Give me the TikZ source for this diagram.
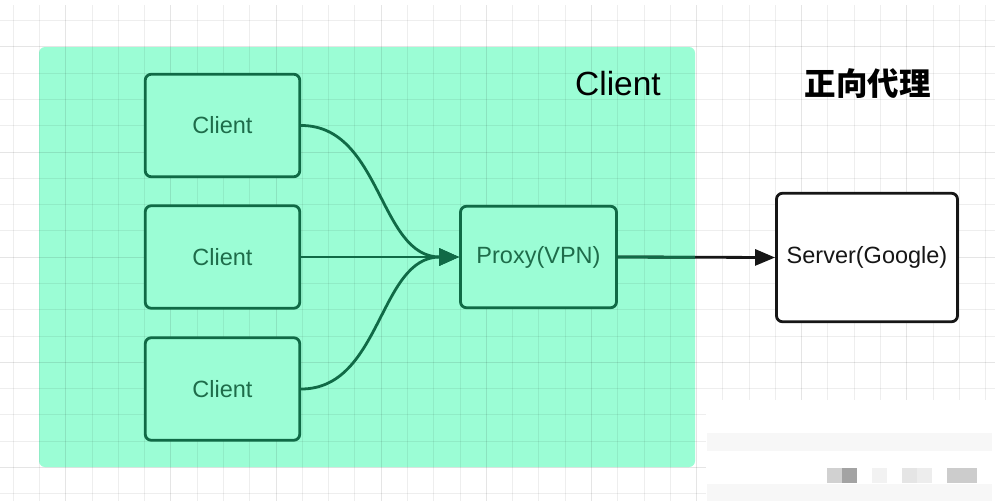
\documentclass[tikz,border=0pt]{standalone}
\usepackage{fontspec}
\setmainfont{Liberation Sans}
\newfontfamily\cjk{Noto Sans CJK SC}
\usetikzlibrary{arrows.meta}
\definecolor{mint}{RGB}{155,253,213}
\definecolor{dgreen}{RGB}{16,106,70}
\definecolor{tgreen}{RGB}{30,108,74}
\definecolor{dk}{RGB}{22,22,22}
\tikzset{
  gridminor/.style={line width=1pt,draw=black,draw opacity=0.065},
  gridmajor/.style={line width=1pt,draw=black,draw opacity=0.1},
  gbox/.style={draw=dgreen,line width=2.8pt,rounded corners=6pt,fill=mint,
    text=tgreen,font=\fontsize{23.5}{28}\selectfont,inner sep=0pt},
  wbox/.style={draw=dk,line width=2.8pt,rounded corners=6pt,fill=white,
    text=dk,font=\fontsize{23.5}{28}\selectfont,inner sep=0pt},
  garrow/.style={draw=dgreen,line width=2.8pt,-{Triangle[length=20pt,width=17pt]}},
  karrow/.style={draw=dk,line width=2.8pt,-{Triangle[length=20pt,width=16pt]}},
}
\begin{document}
\begin{tikzpicture}[x=1pt,y=-1pt]
\useasboundingbox (0,0) rectangle (1007,501);
\fill[white] (0,0) rectangle (1007,501);
% container
\fill[mint,rounded corners=6pt] (39,47) rectangle (695,467);
% grid
\foreach \i in {0,...,37}{
  \pgfmathtruncatemacro{\m}{mod(\i,4)}
  \ifnum\m=2
    \draw[gridmajor] ({13.3+26.28*\i},5) -- ({13.3+26.28*\i},501);
  \else
    \draw[gridminor] ({13.3+26.28*\i},5) -- ({13.3+26.28*\i},501);
  \fi
}
\foreach \j in {0,...,18}{
  \pgfmathtruncatemacro{\m}{mod(\j,4)}
  \ifnum\m=1
    \draw[gridmajor] (0,{20.7+26.28*\j}) -- (995,{20.7+26.28*\j});
  \else
    \draw[gridminor] (0,{20.7+26.28*\j}) -- (995,{20.7+26.28*\j});
  \fi
}
% watermark area
\fill[white] (706,400) rectangle (1007,501);
\fill[black!3] (707,433) rectangle (992,451);
\fill[black!3] (707,484) rectangle (992,501);
\fill[black!18] (827,468) rectangle (842,483);
\fill[black!36] (842,468) rectangle (857,483);
\fill[black!5] (872,468) rectangle (887,483);
\fill[black!10] (902,468) rectangle (917,483);
\fill[black!7] (917,468) rectangle (932,483);
\fill[black!20] (947,468) rectangle (977,483);
% titles
\node[anchor=base,font=\fontsize{33.5}{38}\selectfont,text=black] (title) at (618,95) {Client};
\node[font=\cjk\bfseries\fontsize{31.5}{36}\selectfont,text=black] (cn) at (867.5,83.5) {正向代理};
% boxes
\node[gbox,minimum width=154.5pt,minimum height=102.5pt] (c1) at (222.5,125.5) {Client};
\node[gbox,minimum width=154.5pt,minimum height=102.5pt] (c2) at (222.5,257) {Client};
\node[gbox,minimum width=154.5pt,minimum height=102.5pt] (c3) at (222.5,389) {Client};
\node[gbox,minimum width=156pt,minimum height=101.5pt] (proxy) at (538.5,257) {Proxy(VPN)};
\node[wbox,minimum width=181pt,minimum height=128.5pt] (server) at (867,257.5) {Server(Google)};
% connectors
\draw[garrow] (c1.east) to[out=0,in=180] (proxy.west);
\draw[garrow] (c2.east) -- (proxy.west);
\draw[garrow] (c3.east) to[out=0,in=180] (proxy.west);
\draw[karrow] (proxy.east) -- (server.west);
\begin{scope}
  \clip (39,47) rectangle (695,467);
  \draw[draw=dgreen,line width=2.8pt] (proxy.east) -- (server.west);
\end{scope}
\end{tikzpicture}
\end{document}
